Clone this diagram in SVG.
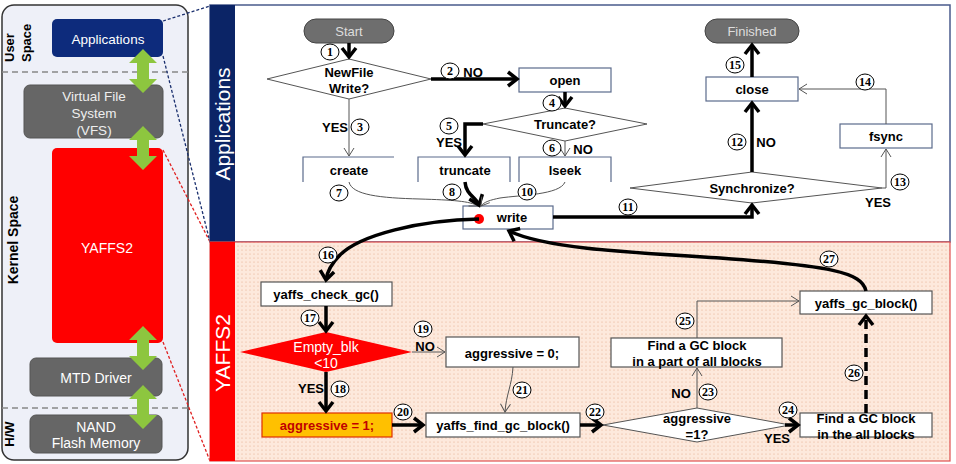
<svg xmlns="http://www.w3.org/2000/svg" width="956" height="464" viewBox="0 0 956 464">
<style>
text{font-family:"Liberation Sans",Arial,sans-serif}
.lbl{font-size:13px;font-weight:bold;fill:#000;text-anchor:middle}
.wt{font-size:13.5px;fill:#fff;text-anchor:middle}
.box{fill:#fff;stroke:#5b6b8c;stroke-width:1.2}
.ybox{fill:#fff;stroke:#555;stroke-width:1.2}
.dia{fill:#fff;stroke:#555;stroke-width:1}
.pill{fill:#6e6e6e;stroke:#444;stroke-width:1}
.gbox{fill:#666;stroke:#555;stroke-width:1}
.thick{fill:none;stroke:#000;stroke-width:3.5;marker-end:url(#mk)}
.thin{fill:none;stroke:#555;stroke-width:1;marker-end:url(#mt)}
.num ellipse{fill:#fff;stroke:#000;stroke-width:1}
.num text{font-family:"Liberation Serif","Times New Roman",serif;font-size:12px;font-weight:bold;text-anchor:middle}
.sep{stroke:#888;stroke-width:1.5;stroke-dasharray:6,4}
</style>
<defs>
<marker id="mk" markerUnits="userSpaceOnUse" markerWidth="1" markerHeight="1" refX="0" refY="0" orient="auto" overflow="visible"><path d="M-9,-7 L0,0 L-9,7" fill="none" stroke="#000" stroke-width="3.5"/></marker>
<marker id="mt" markerUnits="userSpaceOnUse" markerWidth="1" markerHeight="1" refX="0" refY="0" orient="auto" overflow="visible"><path d="M-8,-5 L0,0 L-8,5" fill="none" stroke="#555" stroke-width="1"/></marker>
<pattern id="dots" width="4" height="4" patternUnits="userSpaceOnUse"><rect width="4" height="4" fill="#fde9dc"/><circle cx="2" cy="2" r="0.6" fill="#e3a98c"/></pattern>
<path id="dbl" d="M0,0 L14,14 L6,14 L6,30 L14,30 L0,44 L-14,30 L-6,30 L-6,14 L-14,14 Z" fill="#8dc63f"/>
</defs>

<!-- left stack panel -->
<g id="stack-panel">
<rect x="2" y="5" width="186" height="455" rx="12" fill="#eef0f8" stroke="#333" stroke-width="1.5"/>
<line class="sep" x1="2" y1="72" x2="188" y2="72"/>
<line class="sep" x1="2" y1="408" x2="188" y2="408"/>
<text transform="translate(14,62) rotate(-90)" style="font-size:13px;font-weight:bold">User</text>
<text transform="translate(31,62) rotate(-90)" style="font-size:13px;font-weight:bold">Space</text>
<text transform="translate(18,240) rotate(-90)" style="font-size:14px;font-weight:bold;text-anchor:middle">Kernel Space</text>
<text transform="translate(14,434) rotate(-90)" style="font-size:13px;font-weight:bold;text-anchor:middle">H/W</text>
</g>
<g id="n-applications"><rect x="52" y="19" width="111" height="38" rx="5" fill="#0d2b7c"/><text class="wt" x="108" y="44">Applications</text></g>
<g id="n-vfs"><rect class="gbox" x="24" y="85" width="139" height="53" rx="6"/><text class="wt" x="94" y="101" style="fill:#eee">Virtual File</text><text class="wt" x="94" y="118" style="fill:#eee">System</text><text class="wt" x="94" y="135" style="fill:#eee">(VFS)</text></g>
<g id="n-yaffs2"><rect x="52" y="148" width="111" height="195" rx="5" fill="#ff0000"/><text class="wt" x="107" y="253" style="font-size:14px">YAFFS2</text></g>
<g id="n-mtd"><rect class="gbox" x="30" y="358" width="132" height="38" rx="6"/><text class="wt" x="96" y="383" style="font-size:14px">MTD Driver</text></g>
<g id="n-nand"><rect class="gbox" x="30" y="415" width="132" height="38" rx="6"/><text class="wt" x="96" y="432" style="font-size:14px">NAND</text><text class="wt" x="96" y="448" style="font-size:14px">Flash Memory</text></g>
<g id="stack-arrows">
<use href="#dbl" x="143" y="49"/>
<use href="#dbl" x="143" y="126"/>
<use href="#dbl" x="143" y="326"/>
<use href="#dbl" x="143" y="385"/>
</g>

<!-- zoom lines -->
<g id="zoom-lines" fill="none" stroke-width="1.3" stroke-dasharray="3,2">
<line x1="163" y1="21" x2="210" y2="6" stroke="#1a2f6e"/>
<line x1="163" y1="56" x2="210" y2="242" stroke="#1a2f6e"/>
<line x1="163" y1="150" x2="210" y2="242" stroke="#e02020"/>
<line x1="163" y1="342" x2="210" y2="461" stroke="#e02020"/>
</g>

<!-- panels -->
<g id="panel-apps">
<rect x="210" y="5" width="740" height="237" fill="#fff" stroke="#4a5b8c" stroke-width="1.5"/>
<rect x="210" y="5" width="25" height="237" fill="#0b2466"/>
<text transform="translate(230,124) rotate(-90)" style="font-size:21px;fill:#fff;text-anchor:middle">Applications</text>
</g>
<g id="panel-yaffs">
<rect x="210" y="242" width="740" height="219" fill="url(#dots)" stroke="#e05050" stroke-width="1.2"/>
<rect x="210" y="242" width="25" height="219" fill="#ff0000"/>
<text transform="translate(230,353) rotate(-90)" style="font-size:21px;fill:#fff;text-anchor:middle">YAFFS2</text>
</g>

<!-- application flowchart nodes -->
<g id="n-start"><rect class="pill" x="304" y="19" width="90" height="24" rx="12"/><text x="349" y="36" style="font-size:13px;fill:#ddd;text-anchor:middle">Start</text></g>
<g id="n-newfile"><polygon class="dia" points="267,79 349,59 431,79 349,99"/><text class="lbl" x="349" y="77">NewFile</text><text class="lbl" x="349" y="93">Write?</text></g>
<g id="n-open"><rect class="box" x="519" y="68" width="92" height="24"/><text class="lbl" x="565" y="85">open</text></g>
<g id="n-truncq"><polygon class="dia" points="483,124 565,108 647,124 565,141"/><text class="lbl" x="565" y="129">Truncate?</text></g>
<g id="n-create"><path d="M303,182 V157 H394" fill="none" stroke="#5b6b8c" stroke-width="1.2"/><text class="lbl" x="349" y="175">create</text></g>
<g id="n-truncate"><path d="M418,182 V157 H510 V182" fill="none" stroke="#5b6b8c" stroke-width="1.2"/><text class="lbl" x="465" y="175">truncate</text></g>
<g id="n-lseek"><path d="M519,182 V157 H611 V182" fill="none" stroke="#5b6b8c" stroke-width="1.2"/><text class="lbl" x="565" y="175">lseek</text></g>
<g id="n-write"><rect class="box" x="463" y="206" width="90" height="23"/><text class="lbl" x="512" y="222">write</text><circle cx="479" cy="219" r="5" fill="#ff0000"/></g>
<g id="n-sync"><polygon class="dia" points="630,188 752,172 882,188 752,203"/><text class="lbl" x="752" y="193">Synchronize?</text></g>
<g id="n-close"><rect class="box" x="706" y="77" width="92" height="24"/><text class="lbl" x="752" y="94">close</text></g>
<g id="n-fsync"><rect class="box" x="840" y="124" width="92" height="24"/><text class="lbl" x="886" y="141">fsync</text></g>
<g id="n-finished"><rect class="pill" x="705" y="19" width="94" height="24" rx="12"/><text x="752" y="36" style="font-size:13px;fill:#ddd;text-anchor:middle">Finished</text></g>

<!-- YAFFS2 flowchart nodes -->
<g id="n-checkgc"><rect class="ybox" x="261" y="282" width="131" height="24"/><text class="lbl" x="326" y="299">yaffs_check_gc()</text></g>
<g id="n-empty"><polygon points="240,352 326,332 412,352 326,372" fill="#ff0000"/><text x="326" y="352" style="font-size:14px;fill:#fff;text-anchor:middle">Empty_blk</text><text x="326" y="368" style="font-size:14px;fill:#fff;text-anchor:middle">&lt;10</text></g>
<g id="n-agg1"><rect x="262" y="413" width="130" height="24" fill="#ffc000" stroke="#e03000" stroke-width="1.2"/><text class="lbl" x="327" y="430" style="fill:#c00000">aggressive = 1;</text></g>
<g id="n-agg0"><rect class="ybox" x="446" y="337" width="133" height="30"/><text class="lbl" x="512" y="358">aggressive = 0;</text></g>
<g id="n-findgc"><rect class="ybox" x="426" y="413" width="154" height="24"/><text class="lbl" x="503" y="430">yaffs_find_gc_block()</text></g>
<g id="n-aggq"><polygon class="dia" points="603,425 697,408 790,425 697,442"/><text class="lbl" x="697" y="423">aggressive</text><text class="lbl" x="697" y="439">=1?</text></g>
<g id="n-part"><rect class="ybox" x="611" y="338" width="171" height="29"/><text class="lbl" x="697" y="350">Find a GC block</text><text class="lbl" x="697" y="366">in a part of all blocks</text></g>
<g id="n-all"><rect class="ybox" x="800" y="413" width="132" height="24"/><text class="lbl" x="866" y="423">Find a GC block</text><text class="lbl" x="866" y="439">in the all blocks</text></g>
<g id="n-gcblock"><rect class="ybox" x="800" y="291" width="132" height="23"/><text class="lbl" x="866" y="308">yaffs_gc_block()</text></g>

<!-- connectors -->
<g id="connectors">
<path class="thick" d="M349,43 V57"/>
<path class="thick" d="M431,79 H517"/>
<path class="thin" d="M349,99 V156"/>
<path class="thick" d="M565,92 V106"/>
<path class="thick" d="M483,124 H465 V155"/>
<path class="thin" d="M565,141 V156"/>
<path class="thin" d="M349,182 C352,195 380,198 420,199 C452,200 470,201 478,206"/>
<path class="thick" d="M465,182 C466,195 476,197 479,205"/>
<path class="thin" d="M565,182 C560,195 520,195 500,198 C490,200 484,202 481,206"/>
<path class="thick" d="M553,217 H752 V205"/>
<path class="thick" d="M752,172 V103"/>
<path class="thin" d="M882,188 H886 V149"/>
<path class="thin" d="M886,124 V89 H799"/>
<path class="thick" d="M752,77 V45"/>
<path class="thick" d="M479,219 C420,220 360,235 340,255 C330,265 327,272 326,280"/>
<path class="thick" d="M326,306 V331"/>
<path class="thick" d="M326,372 V411"/>
<path class="thin" d="M412,352 H445"/>
<path class="thick" d="M392,425 H423"/>
<path class="thin" d="M513,367 C512,385 506,395 505,412"/>
<path class="thick" d="M580,425 H601"/>
<path class="thin" d="M697,408 V368"/>
<path class="thick" d="M785,425 H798"/>
<path class="thin" d="M697,338 V301 H799"/>
<path class="thick" d="M866,413 V316" style="stroke-dasharray:9,5"/>
<path class="thick" d="M866,291 C862,272 830,266 720,258 C620,252 545,248 509,231"/>
<text class="lbl" x="473" y="77">NO</text>
<text class="lbl" x="335" y="132">YES</text>
<text class="lbl" x="449" y="147">YES</text>
<text class="lbl" x="583" y="154">NO</text>
<text class="lbl" x="766" y="147">NO</text>
<text class="lbl" x="878" y="207">YES</text>
<text class="lbl" x="425" y="351">NO</text>
<text class="lbl" x="311" y="393">YES</text>
<text class="lbl" x="681" y="398">NO</text>
<text class="lbl" x="777" y="443">YES</text>
<g class="num">
<ellipse cx="330" cy="52" rx="9" ry="8"/><text x="330" y="56">1</text>
<ellipse cx="450" cy="71" rx="9" ry="8"/><text x="450" y="75">2</text>
<ellipse cx="360" cy="127" rx="9" ry="8"/><text x="360" y="131">3</text>
<ellipse cx="552" cy="103" rx="9" ry="8"/><text x="552" y="107">4</text>
<ellipse cx="449" cy="126" rx="9" ry="8"/><text x="449" y="130">5</text>
<ellipse cx="552" cy="148" rx="9" ry="8"/><text x="552" y="152">6</text>
<ellipse cx="339" cy="193" rx="9" ry="8"/><text x="339" y="197">7</text>
<ellipse cx="452" cy="192" rx="9" ry="8"/><text x="452" y="196">8</text>
<ellipse cx="527" cy="192" rx="9" ry="8"/><text x="527" y="196">10</text>
<ellipse cx="628" cy="207" rx="9" ry="8"/><text x="628" y="211">11</text>
<ellipse cx="737" cy="142" rx="9" ry="8"/><text x="737" y="146">12</text>
<ellipse cx="900" cy="182" rx="9" ry="8"/><text x="900" y="186">13</text>
<ellipse cx="865" cy="82" rx="9" ry="8"/><text x="865" y="86">14</text>
<ellipse cx="735" cy="65" rx="9" ry="8"/><text x="735" y="69">15</text>
<ellipse cx="328" cy="255" rx="9" ry="8"/><text x="328" y="259">16</text>
<ellipse cx="310" cy="318" rx="9" ry="8"/><text x="310" y="322">17</text>
<ellipse cx="340" cy="389" rx="9" ry="8"/><text x="340" y="393">18</text>
<ellipse cx="423" cy="329" rx="9" ry="8"/><text x="423" y="333">19</text>
<ellipse cx="403" cy="412" rx="9" ry="8"/><text x="403" y="416">20</text>
<ellipse cx="522" cy="390" rx="9" ry="8"/><text x="522" y="394">21</text>
<ellipse cx="595" cy="412" rx="9" ry="8"/><text x="595" y="416">22</text>
<ellipse cx="708" cy="392" rx="9" ry="8"/><text x="708" y="396">23</text>
<ellipse cx="788" cy="410" rx="9" ry="8"/><text x="788" y="414">24</text>
<ellipse cx="685" cy="321" rx="9" ry="8"/><text x="685" y="325">25</text>
<ellipse cx="854" cy="373" rx="9" ry="8"/><text x="854" y="377">26</text>
<ellipse cx="829" cy="259" rx="9" ry="8"/><text x="829" y="263">27</text>
</g>
</g>
</svg>
